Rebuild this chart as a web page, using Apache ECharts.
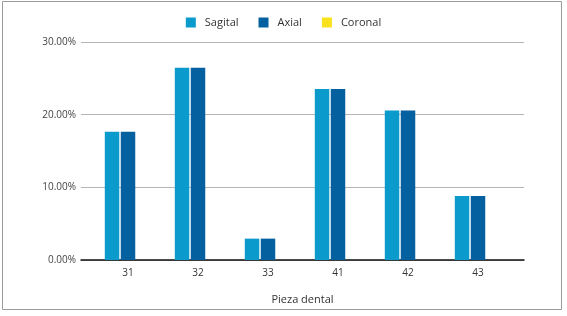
<!DOCTYPE html>
<html><head><meta charset="utf-8">
<script src="https://cdn.jsdelivr.net/npm/echarts@6/dist/echarts.min.js"></script>
<style>html,body{margin:0;padding:0;background:#fff}#c{width:567px;height:316px}</style>
</head><body><div id="c"></div>
<script>
const categories = ['31','32','33','41','42','43'];
const sagital = [17.65, 26.47, 2.94, 23.53, 20.59, 8.82];
const axial = [17.65, 26.47, 2.94, 23.53, 20.59, 8.82];
const coronal = [0, 0, 0, 0, 0, 0];
const yTicks = [0, 10, 20, 30];

const chart = echarts.init(document.getElementById('c'), null, {renderer:'canvas'});
const font = 'Open Sans';
chart.setOption({
  animation:false,
  textStyle:{fontFamily:font},
  graphic:[{type:'rect',shape:{x:2.5,y:1.5,width:559,height:308},style:{fill:'none',stroke:'#9a9a9a',lineWidth:1},silent:true}],
  legend:{top:12,left:'center',itemWidth:10,itemHeight:10,itemGap:20,icon:'rect',
    textStyle:{fontFamily:font,fontSize:11,color:'#333',padding:[0,0,0,4]},
    data:['Sagital','Axial','Coronal']},
  grid:[
    {left:81,right:43,top:42,bottom:56,containLabel:false},
    {left:93,right:54,top:42,bottom:56,containLabel:false}
  ],
  xAxis:[
    {type:'category',gridIndex:0,data:categories,axisLine:{lineStyle:{color:'#111',width:1.5}},
      axisTick:{show:false},axisLabel:{show:false},
      name:'Pieza dental',nameLocation:'middle',nameGap:34,
      nameTextStyle:{fontFamily:font,fontSize:11,color:'#333'}},
    {type:'category',gridIndex:1,data:categories,axisLine:{show:false},axisTick:{show:false},
      axisLabel:{fontFamily:font,fontSize:10,color:'#333',margin:8}}
  ],
  yAxis:[
    {type:'value',gridIndex:0,min:0,max:30,interval:10,
      axisLabel:{formatter:v=>v.toFixed(2)+'%',fontFamily:font,fontSize:10,color:'#444',margin:5},
      axisLine:{show:false},axisTick:{show:false},
      splitLine:{lineStyle:{color:'#b5b5b5',width:1}}},
    {type:'value',gridIndex:1,min:0,max:30,interval:10,show:false,splitLine:{show:false}}
  ],
  series:[
    {name:'Sagital',type:'bar',xAxisIndex:1,yAxisIndex:1,data:sagital,barWidth:14.5,barGap:'10%',itemStyle:{color:'#0a9acb'}},
    {name:'Axial',type:'bar',xAxisIndex:1,yAxisIndex:1,data:axial,barWidth:14.5,barGap:'10%',itemStyle:{color:'#05609f'}},
    {name:'Coronal',type:'bar',xAxisIndex:1,yAxisIndex:1,data:coronal,barWidth:14.5,barGap:'10%',itemStyle:{color:'#f9e21b'}}
  ]
});
</script></body></html>
